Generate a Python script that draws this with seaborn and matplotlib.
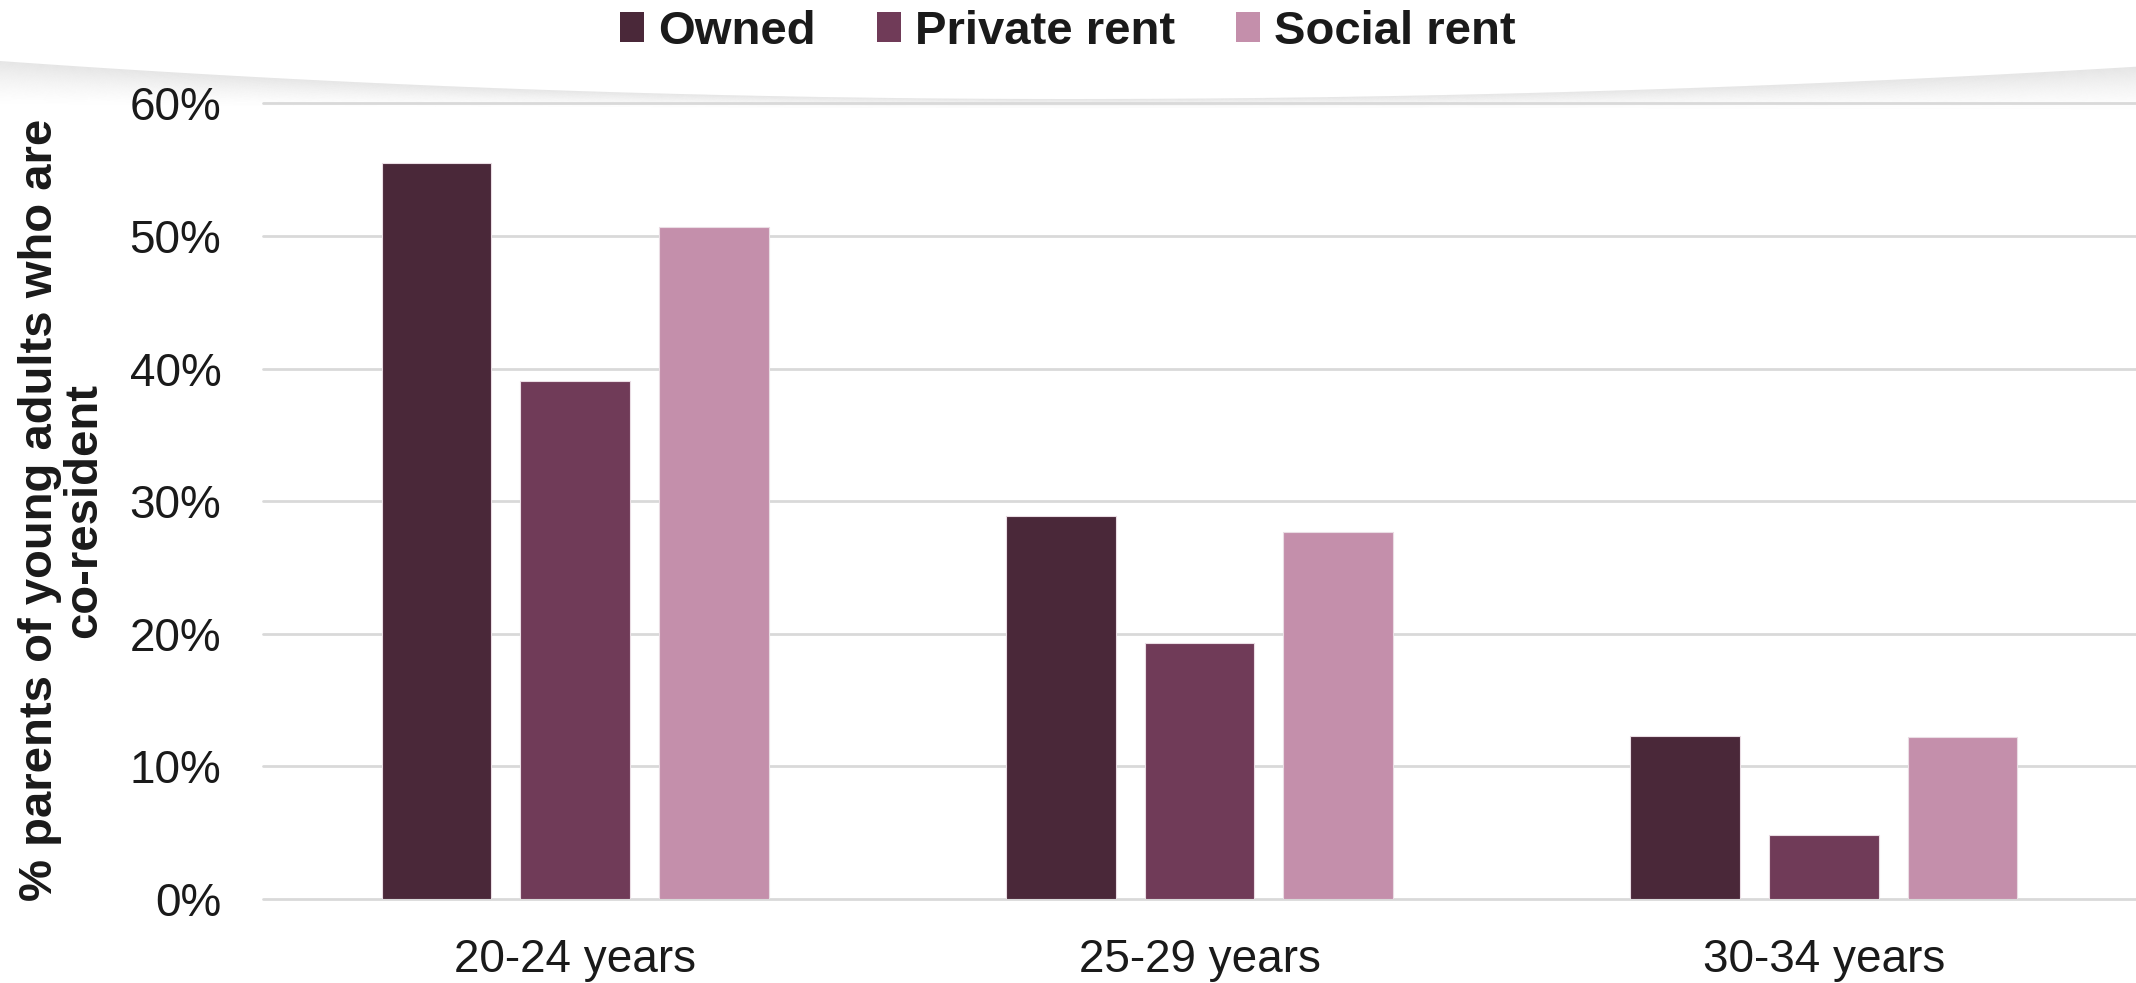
import numpy as np
import pandas as pd
import seaborn as sns
import matplotlib.pyplot as plt
from matplotlib.patches import Patch

# values (share of parents with co-resident young adults)
age_groups = ['20-24 years', '25-29 years', '30-34 years']
tenures = ['Owned', 'Private rent', 'Social rent']
owned = [0.555, 0.289, 0.123]
private_rent = [0.391, 0.193, 0.048]
social_rent = [0.507, 0.277, 0.122]
y_ticks = [0.0, 0.1, 0.2, 0.3, 0.4, 0.5, 0.6]
y_tick_labels = ['0%', '10%', '20%', '30%', '40%', '50%', '60%']

colors = ['#4a2839', '#703b58', '#c48fab']

df = pd.DataFrame({
    'age': age_groups * 3,
    'tenure': [t for t in tenures for _ in age_groups],
    'value': owned + private_rent + social_rent,
})

sns.set_style('white')
plt.rcParams['font.family'] = ['Liberation Sans', 'DejaVu Sans']

W, H = 2136, 983
fig = plt.figure(figsize=(W / 100, H / 100), dpi=100)

# faint curved shadow under the legend band
bg = fig.add_axes([0, 0, 1, 1], zorder=-5)
bg.set_xlim(0, W)
bg.set_ylim(H, 0)
bg.axis('off')
xs = np.linspace(0, W, 400)
t = (xs - W / 2) / (W / 2)
curve = 99 - 38 * np.where(t < 0, t ** 2, 0.85 * t ** 2)
thick = 10 + 34 * t ** 2
n = 40
for k in range(n):
    f = k / n
    bg.fill_between(xs, curve + f * thick, curve + (f + 1 / n) * thick,
                    color='#8c8c8c', alpha=0.22 * (1 - f) ** 1.5, linewidth=0)

left, right = 263 / W, 1.0
top_px, bot_px = 103.5, 899
ax = fig.add_axes([left, 1 - bot_px / H, right - left, (bot_px - top_px) / H])
ax.patch.set_alpha(0)

sns.barplot(data=df, x='age', y='value', hue='tenure', hue_order=tenures,
            palette=colors, saturation=1, width=0.667, gap=0.21,
            edgecolor='#eadde4', linewidth=0.8, legend=False, ax=ax, zorder=3)

ax.set_ylim(0, 0.6)
ax.set_xlim(-0.5, 2.5)
ax.set_yticks(y_ticks)
ax.set_yticklabels(y_tick_labels)
for y in y_ticks:
    ax.axhline(y, color='#d9d9d9', linewidth=2, zorder=1, clip_on=False)
for s in ax.spines.values():
    s.set_visible(False)
ax.tick_params(axis='y', length=0, pad=30, labelsize=33, labelcolor='#1a1a1a')
ax.tick_params(axis='x', length=0, pad=28, labelsize=33, labelcolor='#1a1a1a')
ax.set_xlabel('')
ax.set_ylabel('')

fig.text(62 / W, 1 - 510 / H, '% parents of young adults who are\nco-resident',
         rotation=90, ha='center', va='center', multialignment='center',
         fontsize=34, fontweight='bold', color='#1a1a1a', linespacing=1.0)

handles = [Patch(facecolor=c, edgecolor='none') for c in colors]
fig.legend(handles, tenures, loc='center', bbox_to_anchor=(0.5, 1 - 32 / H),
           ncol=3, frameon=False, prop={'weight': 'bold', 'size': 34},
           handlelength=0.5, handleheight=0.6, handletextpad=0.3,
           columnspacing=1.3, labelcolor='#1a1a1a')

fig.savefig('out.png', dpi=100)
